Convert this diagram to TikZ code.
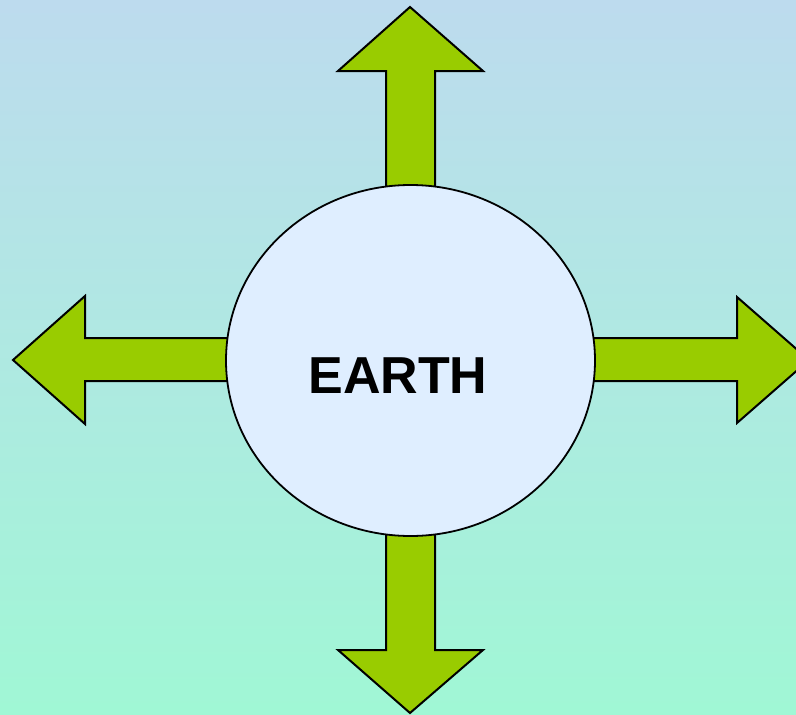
\documentclass[tikz,border=0pt]{standalone}
\usepackage{fontspec}
\setmainfont{Liberation Sans}
\usetikzlibrary{shapes.geometric}
\definecolor{bgtop}{RGB}{189,219,238}
\definecolor{bgbot}{RGB}{160,247,213}
\definecolor{arrowgreen}{RGB}{153,204,0}
\definecolor{earthfill}{RGB}{223,238,255}
\tikzset{
  bigarrow/.style={fill=arrowgreen, draw=black, line width=2pt, line join=miter},
  earthstyle/.style={ellipse, draw=black, line width=1.8pt, fill=earthfill,
    minimum width=369pt, minimum height=351pt, inner sep=0pt}
}
\begin{document}
\begin{tikzpicture}[x=1pt,y=-1pt]
\useasboundingbox (0,0) rectangle (796,715);
\clip (0,0) rectangle (796,715);
\shade[top color=bgtop, bottom color=bgbot] (0,0) rectangle (796,715);
% up arrow
\draw[bigarrow] (386,250) -- (386,71) -- (338,71) -- (410,7) -- (483,71) -- (435,71) -- (435,250) -- cycle;
% down arrow
\draw[bigarrow] (386,470) -- (386,650) -- (338,650) -- (410,713) -- (483,650) -- (435,650) -- (435,470) -- cycle;
% left arrow
\draw[bigarrow] (300,338) -- (85,338) -- (85,296) -- (13,360) -- (85,424) -- (85,381) -- (300,381) -- cycle;
% right arrow
\draw[bigarrow] (520,338) -- (737,338) -- (737,297) -- (809,360) -- (737,423) -- (737,381) -- (520,381) -- cycle;
\node[earthstyle] (earth) at (410.5,360.5) {};
\node[font=\bfseries\fontsize{52}{60}\selectfont, anchor=base] (label) at (398,393) {EARTH};
\end{tikzpicture}
\end{document}
